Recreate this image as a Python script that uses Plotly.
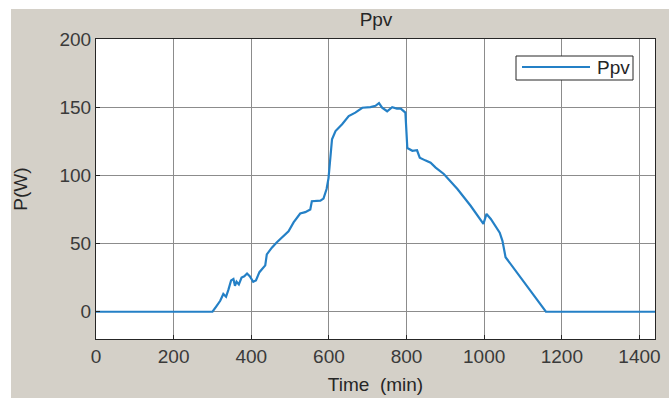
import plotly.graph_objects as go

# Time (min)
time_min = [0, 300, 310, 320, 328, 335, 341, 348, 354, 358, 362, 368, 375, 382, 389,
            396, 405, 412, 421, 430, 436, 440, 453, 466, 480, 496, 509, 526, 539, 552,
            556, 578, 586, 594, 599, 604, 608, 617, 634, 651, 668, 686, 707, 720, 729,
            737, 750, 763, 775, 785, 797, 802, 815, 827, 834, 848, 862, 875, 896, 931,
            965, 998, 1006, 1017, 1040, 1047, 1055, 1159, 1440]
# PV power (W)
ppv = [0, 0, 4, 8, 13, 11, 16, 23, 24, 19, 22, 20, 25, 26, 28,
       26, 22, 23, 29, 32, 34, 42, 47, 51, 55, 59, 65.5, 72, 73, 75,
       81, 81.5, 83, 90, 98, 113, 126.5, 132.5, 137.5, 143.5, 146, 149.6, 150, 151, 153,
       149.6, 147, 150, 149, 149, 146, 120, 118, 118.4, 113, 111, 109.3, 105.7, 101, 90,
       77.7, 64.4, 71.7, 68, 58, 52, 40, 0, 0]

x_ticks = [0, 200, 400, 600, 800, 1000, 1200, 1400]
y_ticks = [0, 50, 100, 150, 200]

LINE = "#2480c6"
GRAY = "#d4d0c8"
FONT = "Liberation Sans, Arial, sans-serif"
FS = 19

W, H = 669, 398
L, T, PW, PH = 96, 39, 559, 300

fig = go.Figure()
fig.add_trace(go.Scatter(x=time_min, y=ppv, mode="lines", name="Ppv",
                         line=dict(color=LINE, width=2.2), showlegend=False))

axis_common = dict(showgrid=True, gridcolor="#8c8c8c", gridwidth=1,
                   showline=True, linecolor="#262626", linewidth=1, mirror=True,
                   ticks="inside", ticklen=4, tickcolor="#262626", zeroline=False,
                   automargin=False,
                   tickfont=dict(family=FONT, size=FS, color="#3a3a3a"))

fig.update_xaxes(range=[0, 1440], tickvals=x_ticks, ticktext=[str(v) for v in x_ticks],
                 title=dict(text="Time  (min)", font=dict(family=FONT, size=FS, color="#262626"),
                            standoff=11), **axis_common)
fig.update_yaxes(range=[-20, 200], tickvals=y_ticks, ticktext=[str(v) for v in y_ticks],
                 title=dict(text="P(W)", font=dict(family=FONT, size=FS, color="#262626"),
                            standoff=26), **axis_common)


def px(xp):  # page x -> paper
    return (xp - L) / PW


def py(yp):  # page y -> paper
    return (T + PH - yp) / PH


shapes = [
    dict(type="rect", xref="paper", yref="paper", x0=px(516), x1=px(633), y0=py(80), y1=py(56),
         fillcolor="white", line=dict(color="#262626", width=1), layer="above"),
    dict(type="line", xref="paper", yref="paper", x0=px(522), x1=px(590),
         y0=py(67), y1=py(67), line=dict(color=LINE, width=2.2), layer="above"),
    # white strips at top and left of the window
    dict(type="rect", xref="paper", yref="paper", x0=px(0), x1=px(W),
         y0=py(9), y1=py(0), fillcolor="white", line=dict(width=0), layer="above"),
    dict(type="rect", xref="paper", yref="paper", x0=px(0), x1=px(11),
         y0=py(H), y1=py(0), fillcolor="white", line=dict(width=0), layer="above"),
]
annotations = [
    dict(text="Ppv", xref="paper", yref="paper", x=px(595), y=py(67),
         xanchor="left", yanchor="middle", showarrow=False,
         font=dict(family=FONT, size=FS, color="#262626")),
]

fig.update_layout(
    width=W, height=H,
    margin=dict(l=L, r=W - L - PW, t=T, b=H - T - PH, autoexpand=False),
    paper_bgcolor=GRAY, plot_bgcolor="white",
    title=dict(text="Ppv", x=376 / W, xanchor="center", y=1 - 19 / H, yanchor="middle",
               font=dict(family=FONT, size=FS, color="#262626")),
    shapes=shapes, annotations=annotations,
    showlegend=False,
)

fig.write_html("out.html",
               config={"displayModeBar": False},
               post_script="document.body.style.margin='0';document.body.style.overflow='hidden';")
